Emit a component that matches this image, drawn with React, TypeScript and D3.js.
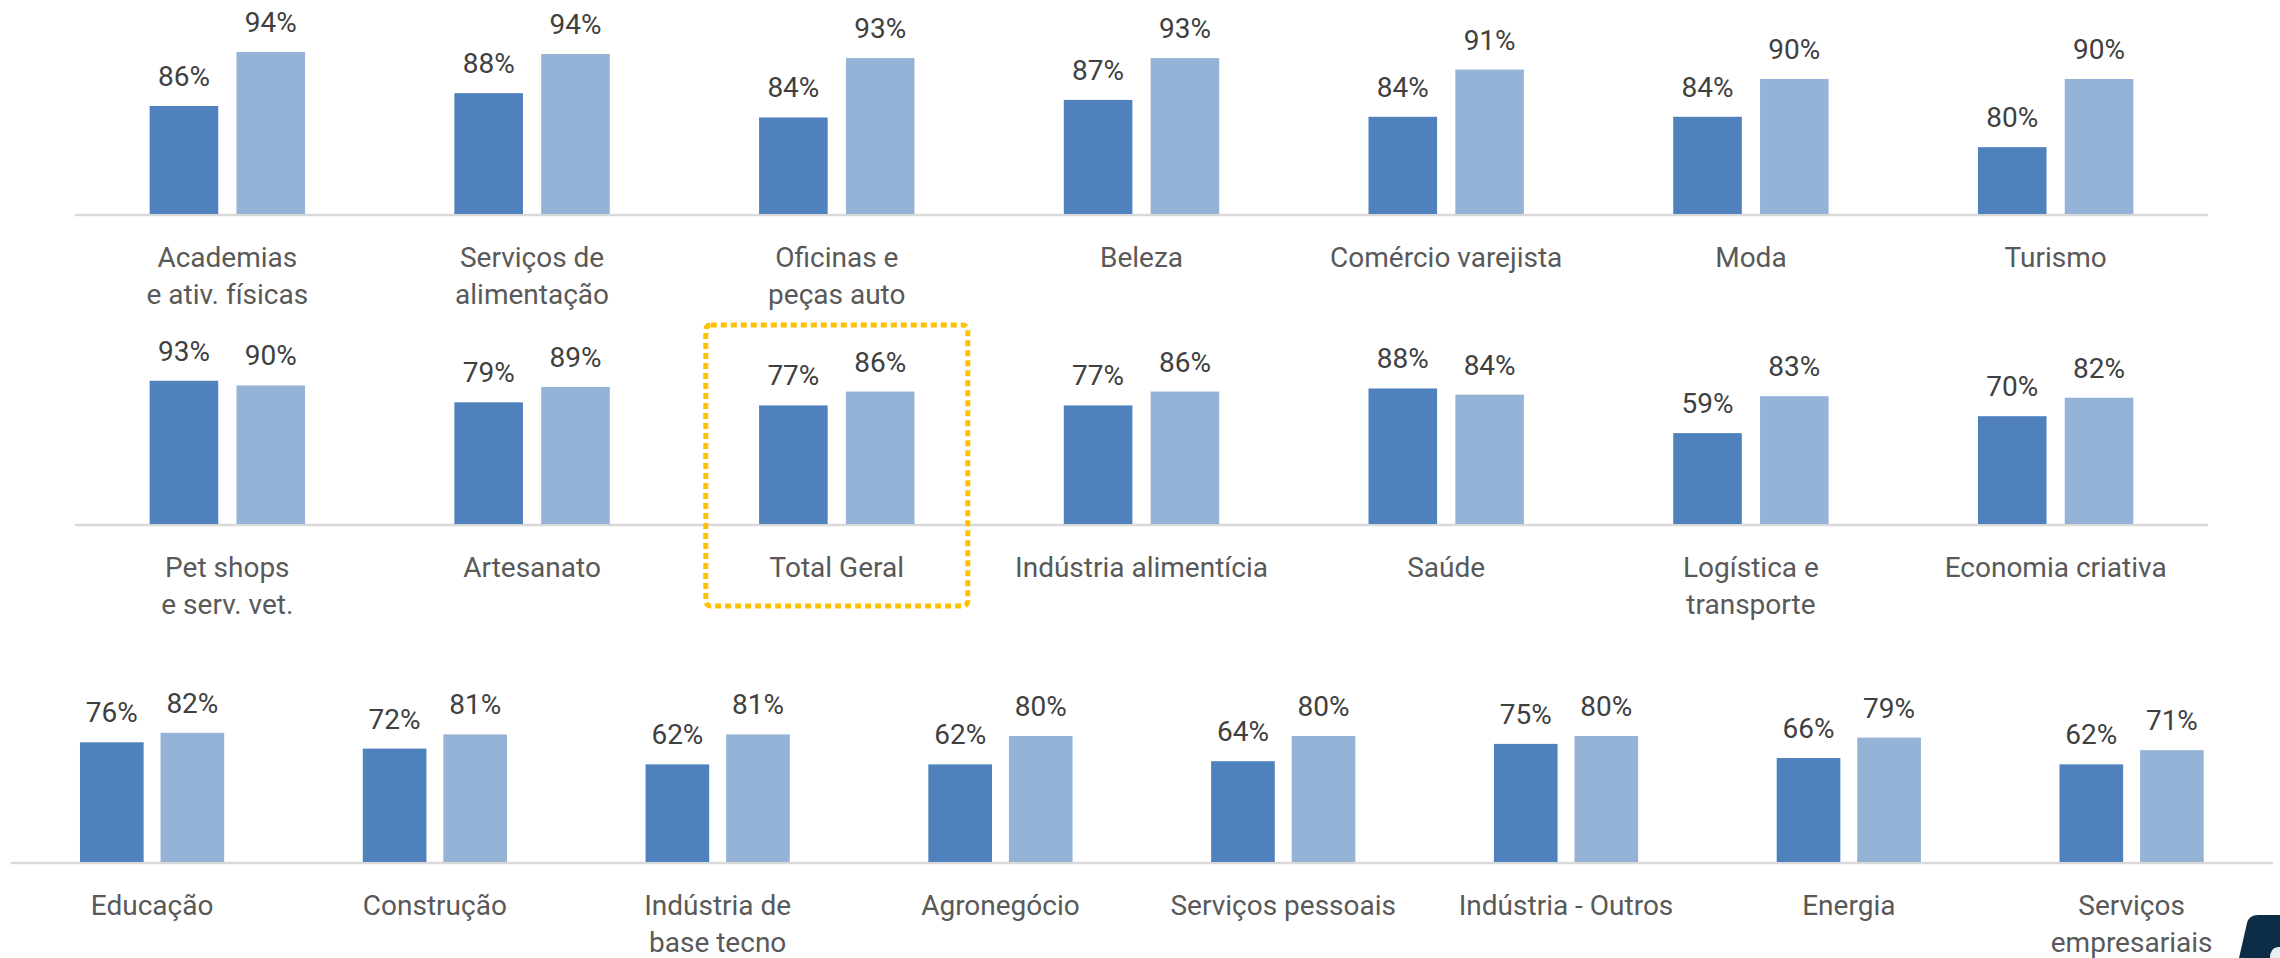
import React from "react";
import * as d3 from "d3";

// ---------- data ----------
const row1Categories = [
  "Academias\ne ativ. físicas",
  "Serviços de\nalimentação",
  "Oficinas e\npeças auto",
  "Beleza",
  "Comércio varejista",
  "Moda",
  "Turismo",
];
const row1SeriesA = [0.86, 0.879, 0.843, 0.869, 0.844, 0.844, 0.799];
const row1SeriesB = [0.94, 0.937, 0.931, 0.931, 0.914, 0.9, 0.9];

const row2Categories = [
  "Pet shops\ne serv. vet.",
  "Artesanato",
  "Total Geral",
  "Indústria alimentícia",
  "Saúde",
  "Logística e\ntransporte",
  "Economia criativa",
];
const row2SeriesA = [0.93, 0.79, 0.77, 0.77, 0.88, 0.59, 0.7];
const row2SeriesB = [0.9, 0.89, 0.86, 0.86, 0.84, 0.83, 0.82];

const row3Categories = [
  "Educação",
  "Construção",
  "Indústria de\nbase tecno",
  "Agronegócio",
  "Serviços pessoais",
  "Indústria - Outros",
  "Energia",
  "Serviços\nempresariais",
];
const row3SeriesA = [0.76, 0.72, 0.62, 0.62, 0.64, 0.75, 0.66, 0.62];
const row3SeriesB = [0.82, 0.81, 0.81, 0.8, 0.8, 0.8, 0.79, 0.71];

const highlightedCategory = "Total Geral";

// ---------- styles ----------
const COLOR_A = "#4F81BD";
const COLOR_B = "#95B3D7";
const AXIS_COLOR = "#D9D9D9";
const VALUE_COLOR = "#404040";
const LABEL_COLOR = "#595959";
const FONT = "Roboto, 'Open Sans', sans-serif";
const FONT_SIZE = 28;

const fmt = d3.format(".0%");

type PanelProps = {
  categories: string[];
  a: number[];
  b: number[];
  x0: number;
  x1: number;
  baseline: number;
  top: number;
  yMin: number;
};

function Panel({ categories, a, b, x0, x1, baseline, top, yMin }: PanelProps) {
  const xOuter = d3
    .scaleBand<string>()
    .domain(categories)
    .range([x0, x1])
    .paddingInner(0.49)
    .paddingOuter(0.245);
  const xInner = d3
    .scaleBand<string>()
    .domain(["a", "b"])
    .range([0, xOuter.bandwidth()])
    .paddingInner(0.21);
  const y = d3.scaleLinear().domain([yMin, 1]).range([baseline, top]);

  return (
    <g>
      <line
        x1={x0}
        x2={x1}
        y1={baseline + 1}
        y2={baseline + 1}
        stroke={AXIS_COLOR}
        strokeWidth={2.5}
      />
      {categories.map((cat, i) => {
        const gx = xOuter(cat)!;
        const center = gx + xOuter.bandwidth() / 2;
        const bars = [
          { key: "a", v: a[i], color: COLOR_A },
          { key: "b", v: b[i], color: COLOR_B },
        ];
        const lines = cat.split("\n");
        return (
          <g key={cat}>
            {bars.map((bar) => {
              const bx = gx + xInner(bar.key)!;
              const by = y(bar.v);
              return (
                <g key={bar.key}>
                  <rect
                    x={bx}
                    y={by}
                    width={xInner.bandwidth()}
                    height={baseline - by}
                    fill={bar.color}
                  />
                  <text
                    x={bx + xInner.bandwidth() / 2}
                    y={by - 20}
                    textAnchor="middle"
                    fontFamily={FONT}
                    fontSize={FONT_SIZE}
                    fill={VALUE_COLOR}
                  >
                    {fmt(bar.v)}
                  </text>
                </g>
              );
            })}
            {lines.map((ln, j) => (
              <text
                key={j}
                x={center}
                y={baseline + 53 + j * 37}
                textAnchor="middle"
                fontFamily={FONT}
                fontSize={FONT_SIZE}
                fill={LABEL_COLOR}
              >
                {ln}
              </text>
            ))}
            {cat === highlightedCategory && (
              <rect
                x={center - 131}
                y={baseline - 199}
                width={262}
                height={281}
                rx={5}
                fill="none"
                stroke="#FFC000"
                strokeWidth={5}
                strokeDasharray="6 4"
              />
            )}
          </g>
        );
      })}
    </g>
  );
}

export default function App() {
  return (
    <svg
      width={2280}
      height={958}
      style={{ position: "absolute", left: 0, top: 0, background: "#fff" }}
    >
      <rect x={0} y={0} width={2280} height={958} fill="#fff" />
      <Panel
        categories={row1Categories}
        a={row1SeriesA}
        b={row1SeriesB}
        x0={75}
        x1={2208}
        baseline={214}
        top={11.5}
        yMin={0.7}
      />
      <Panel
        categories={row2Categories}
        a={row2SeriesA}
        b={row2SeriesB}
        x0={75}
        x1={2208}
        baseline={524}
        top={370}
        yMin={0}
      />
      <Panel
        categories={row3Categories}
        a={row3SeriesA}
        b={row3SeriesB}
        x0={10.7}
        x1={2273}
        baseline={862}
        top={704.5}
        yMin={0}
      />
      {/* corner logo fragment */}
      <path
        d="M2239 958 L2247 923 Q2249 915 2258 915 L2280 915 L2280 958 Z"
        fill="#0C2D48"
      />
      <path
        d="M2270 958 Q2270 948 2278 947 L2280 947 L2280 958 Z"
        fill="#e8eef3"
      />
    </svg>
  );
}
